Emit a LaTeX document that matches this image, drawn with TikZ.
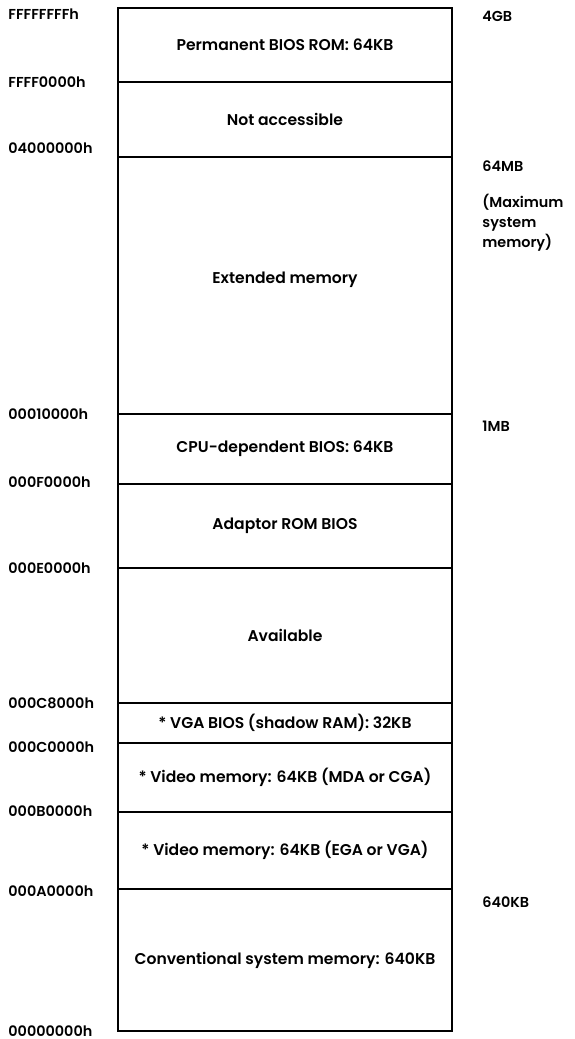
\documentclass[tikz,border=0pt]{standalone}
\usepackage{fontspec}
\setmainfont{Poppins}[UprightFont=* Medium,BoldFont=* SemiBold]
\usetikzlibrary{positioning}

\tikzset{
  region/.style={draw,line width=0.6pt,outer sep=0pt,inner sep=0pt,minimum width=167pt,
    font=\fontsize{7.8}{9}\selectfont\bfseries},
  addr/.style={anchor=west,inner sep=0pt,xshift=-55pt,font=\fontsize{7.2}{9}\selectfont\bfseries},
  size/.style={anchor=north west,inner sep=0pt,xshift=15pt,yshift=-1.5pt,
    font=\fontsize{7.2}{10}\selectfont\bfseries}
}

\begin{document}
\begin{tikzpicture}[x=0.5pt,y=-0.5pt,node distance=0pt]
\useasboundingbox (0,0) rectangle (574,1039);
% the memory regions, top (high addresses) to bottom
\node[region,anchor=north west,minimum height=37pt] (rom) at (118,8) {Permanent BIOS ROM: 64KB};
\node[region,below=of rom,minimum height=37.5pt] (nacc) {Not accessible};
\node[region,below=of nacc,minimum height=128.5pt] (ext) {\raisebox{8pt}{Extended memory}};
\node[region,below=of ext,minimum height=35pt] (cpu) {CPU-dependent BIOS: 64KB};
\node[region,below=of cpu,minimum height=42pt] (adapt) {Adaptor ROM BIOS};
\node[region,below=of adapt,minimum height=67.5pt] (avail) {Available};
\node[region,below=of avail,minimum height=20pt] (vgabios) {* VGA BIOS (shadow RAM): 32KB};
\node[region,below=of vgabios,minimum height=34.5pt] (mda) {* Video memory: 64KB (MDA or CGA)};
\node[region,below=of mda,minimum height=38.5pt] (ega) {* Video memory: 64KB (EGA or VGA)};
\node[region,below=of ega,minimum height=71pt] (conv) {Conventional system memory: 640KB};

% addresses
\node[addr,yshift=-3pt] (aFFFFFFFF) at (rom.north west) {FFFFFFFFh};
\node[addr] (aFFFF0000) at (nacc.north west) {FFFF0000h};
\node[addr,yshift=4.5pt] (a04000000) at (ext.north west) {04000000h};
\node[addr] (a00010000) at (cpu.north west) {00010000h};
\node[addr,yshift=1pt] (a000F0000) at (adapt.north west) {000F0000h};
\node[addr] (a000E0000) at (avail.north west) {000E0000h};
\node[addr] (a000C8000) at (vgabios.north west) {000C8000h};
\node[addr,yshift=-2pt] (a000C0000) at (mda.north west) {000C0000h};
\node[addr,yshift=0.5pt] (a000B0000) at (ega.north west) {000B0000h};
\node[addr,yshift=-1pt] (a000A0000) at (conv.north west) {000A0000h};
\node[addr] (a00000000) at (conv.south west) {00000000h};

% sizes
\node[size] (s4GB) at (rom.north east) {4GB};
\node[size] (s64MB) at (ext.north east) {64MB};
\node[size,yshift=-17pt,align=left] (smax) at (ext.north east) {(Maximum\\system\\memory)};
\node[size,yshift=-2pt] (s1MB) at (cpu.north east) {1MB};
\node[size,yshift=-2pt] (s640KB) at (conv.north east) {640KB};
\end{tikzpicture}
\end{document}
